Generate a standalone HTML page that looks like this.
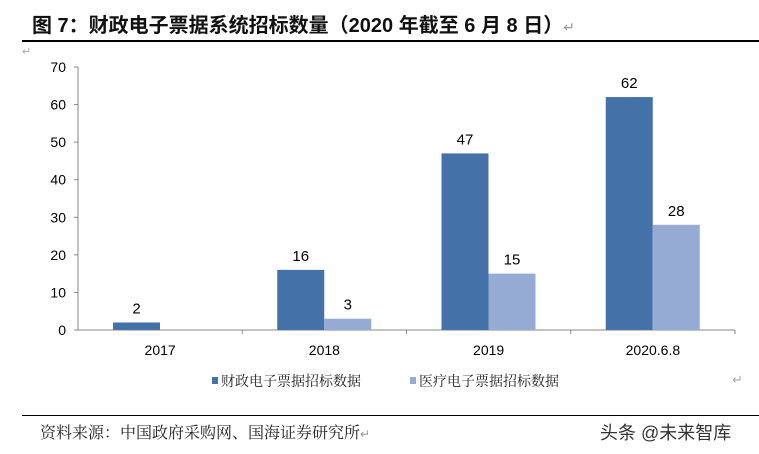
<!DOCTYPE html>
<html><head><meta charset="utf-8">
<style>
body{margin:0;width:759px;height:454px;background:#fff;overflow:hidden;font-family:"Liberation Sans","Noto Sans CJK SC",sans-serif;}
.t{position:absolute;white-space:nowrap;}
</style></head><body>
<div class="t" style="left:32px;top:9px;font-size:20px;font-weight:bold;color:#111;">图 7：财政电子票据系统招标数量（2020 年截至 6 月 8 日）<span style="font-weight:normal;color:#999;font-size:14px;">↵</span></div>
<div style="position:absolute;left:22px;top:40px;width:737px;height:2px;background:#000;"></div>
<div class="t" style="left:22px;top:45px;font-size:11px;color:#aaa;">↵</div>
<div class="t" style="left:732px;top:372px;font-size:13px;color:#aaa;">↵</div>
<svg id="chart" width="759" height="454" style="position:absolute;left:0;top:0;"></svg>
<div style="position:absolute;left:22px;top:415px;width:737px;height:1px;background:#000;"></div>
<div class="t" style="left:40px;top:420px;font-size:16px;color:#222;font-family:'Liberation Serif','Noto Serif CJK SC',serif;">资料来源：中国政府采购网、国海证券研究所<span style="color:#999;font-size:12px;">↵</span></div>
<div class="t" style="left:600px;top:419px;font-size:18px;color:#333;">头条 @未来智库</div>
<script>
const categories=["2017","2018","2019","2020.6.8"];
const finance=[2,16,47,62];
const medical=[null,3,15,28];
const yTicks=[0,10,20,30,40,50,60,70];
const seriesNames=["财政电子票据招标数据","医疗电子票据招标数据"];
const colors=["#4472a8","#95abd3"];
const svg=document.getElementById('chart');
const NS="http://www.w3.org/2000/svg";
const x0=78,x1=735,y0=330,y1=67,yMax=70;
const gw=(x1-x0)/categories.length,bw=47;
const y=v=>y0-(v/yMax)*(y0-y1);
function mk(tag,a,txt){const e=document.createElementNS(NS,tag);for(const k in a)e.setAttribute(k,a[k]);if(txt!=null)e.textContent=txt;svg.appendChild(e);return e;}
let ax=mk('line',{x1:x0,y1:y1,x2:x0,y2:y0,stroke:'#888'});


yTicks.forEach(v=>{
 let tk=mk('line',{x1:x0-4,y1:y(v),x2:x0,y2:y(v),stroke:'#888'});
 
 
 let t=mk('text',{x:x0-12,y:y(v)+5,'text-anchor':'end','font-size':14,fill:'#000'},v);
 
 
});
let xa=mk('line',{x1:x0,y1:y0,x2:x1,y2:y0,stroke:'#888'});


categories.forEach((c,i)=>{
 const gx=x0+gw*i;
 let tk=mk('line',{x1:gx+gw,y1:y0,x2:gx+gw,y2:y0+4,stroke:'#888'});
 
 
 let lb=mk('text',{x:gx+gw/2,y:y0+25,'text-anchor':'middle','font-size':14,fill:'#000'},c);
 
 
 [finance,medical].forEach((s,j)=>{
  const v=s[i]; if(v==null) return;
  const bx=gx+35+bw*j;
  let r=mk('rect',{x:bx,y:y(v),width:bw,height:y0-y(v),fill:colors[j]});
  
  
  let vl=mk('text',{x:bx+bw/2,y:y(v)-9,'text-anchor':'middle','font-size':15,fill:'#000'},v);
  
  
 });
});
const lx=[212,410];
seriesNames.forEach((n,j)=>{
 let r=mk('rect',{x:lx[j],y:377,width:6,height:7,fill:colors[j]});
 
 
 let t=mk('text',{x:lx[j]+9,y:386,'font-size':14,fill:'#222','font-family':'"Liberation Serif","Noto Serif CJK SC",serif'},n);
 
 
});
</script>
</body></html>
